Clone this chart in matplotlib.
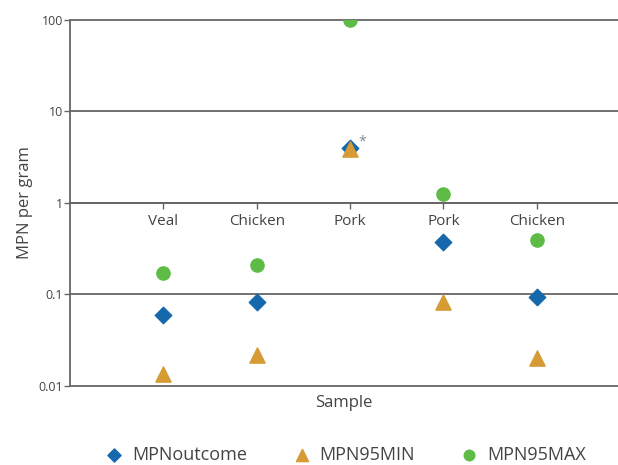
import numpy as np
import matplotlib
matplotlib.use("Agg")
import matplotlib.pyplot as plt
from matplotlib.ticker import FixedLocator, FixedFormatter, NullLocator

plt.rcParams['font.family'] = ['Open Sans', 'DejaVu Sans']

samples = ["Veal", "Chicken", "Pork", "Pork", "Chicken"]
mpn_outcome = [0.06, 0.082, 4.0, 0.37, 0.093]
mpn95_min = [0.0135, 0.022, 3.9, 0.082, 0.02]
mpn95_max = [0.17, 0.21, 100, 1.25, 0.39]
y_ticks = [0.01, 0.1, 1, 10, 100]
y_tick_labels = ["0.01", "0.1", "1", "10", "100"]

TXT = "#444444"
LINE = "#666666"
BLUE = "#1668ad"
GOLD = "#d69b34"
GREEN = "#5dbb46"

fig = plt.figure(figsize=(6.18, 4.65), dpi=100)
ax = fig.add_axes([0.1133, 0.170, 0.8867, 0.787])

x = np.arange(1, len(samples) + 1)

for yv in y_ticks:
    ax.axhline(yv, color=LINE, lw=1.3, zorder=1, clip_on=False)

ax.scatter(x, mpn95_max, marker="o", s=90, color=GREEN, zorder=3, label="MPN95MAX")
ax.scatter(x, mpn_outcome, marker="D", s=70, color=BLUE, zorder=3, label="MPNoutcome")
ax.scatter(x, mpn95_min, marker="^", s=120, color=GOLD, zorder=4, label="MPN95MIN")

ax.annotate("*", (x[2], mpn_outcome[2]), xytext=(6, 2), textcoords="offset points",
            color="#888888", fontsize=10)

ax.set_yscale("log")
ax.set_ylim(0.01, 100)
ax.set_xlim(0, 5.87)

ax.yaxis.set_major_locator(FixedLocator(y_ticks))
ax.yaxis.set_major_formatter(FixedFormatter(y_tick_labels))
ax.yaxis.set_minor_locator(NullLocator())
ax.tick_params(axis="y", length=4, width=1, color=LINE, labelsize=9, labelcolor=TXT, pad=1)

ax.spines["bottom"].set_position(("data", 1))
ax.spines["bottom"].set_color(LINE)
ax.spines["bottom"].set_linewidth(1.3)
ax.spines["left"].set_color(LINE)
ax.spines["left"].set_linewidth(1.3)
ax.spines["top"].set_visible(False)
ax.spines["right"].set_visible(False)
ax.set_xticks(x)
ax.set_xticklabels(samples)
ax.tick_params(axis="x", length=4, width=1, color=LINE, labelsize=11, labelcolor=TXT, pad=4)

ax.set_ylabel("MPN per gram", fontsize=12, color=TXT, labelpad=4)
fig.text(0.556, 0.133, "Sample", ha="center", va="center", fontsize=12, color=TXT)

handles, labels = ax.get_legend_handles_labels()
order = [1, 2, 0]
leg = fig.legend([handles[i] for i in order], [labels[i] for i in order],
                 loc="center", bbox_to_anchor=(0.552, 0.022), ncol=3, frameon=False,
                 fontsize=13, handletextpad=0.0, columnspacing=2.0, markerscale=0.8)
for t in leg.get_texts():
    t.set_color(TXT)

fig.savefig("out.png", dpi=100)
